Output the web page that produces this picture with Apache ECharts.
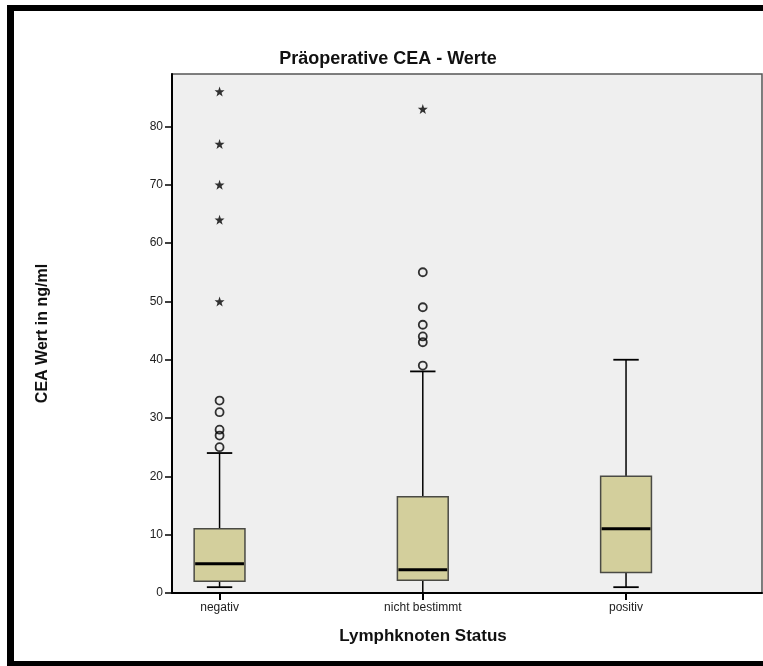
<!DOCTYPE html>
<html>
<head>
<meta charset="utf-8">
<script src="https://cdn.jsdelivr.net/npm/echarts@6/dist/echarts.min.js"></script>
<style>
  html, body { margin: 0; padding: 0; background: #fff; }
  #chart { width: 763px; height: 666px; }
</style>
</head>
<body>
<div id="chart"></div>
<script>
// Lymph node status groups (positions 1..3 on the x scale)
const categories = ['negativ', 'nicht bestimmt', 'positiv'];
const positions = [1, 2, 3];

// Box summaries per group: [lower whisker, Q1, median, Q3, upper whisker]
const boxNegativ = [1, 2, 5, 11, 24];
const boxNichtBestimmt = [0, 2.2, 4, 16.5, 38];
const boxPositiv = [1, 3.5, 11, 20, 40];

// Mild outliers (circles) and extreme values (asterisks) per group
const outNegativ = [25, 27, 28, 31, 33];
const outNichtBestimmt = [39, 43, 44, 46, 49, 55];
const outPositiv = [];
const extNegativ = [50, 64, 70, 77, 86];
const extNichtBestimmt = [83];
const extPositiv = [];

// Y-axis tick labels
const yTicks = [0, 10, 20, 30, 40, 50, 60, 70, 80];

const boxes = [boxNegativ, boxNichtBestimmt, boxPositiv];
const outliers = [outNegativ, outNichtBestimmt, outPositiv];
const extremes = [extNegativ, extNichtBestimmt, extPositiv];

const boxData = positions.map((p, i) => [p].concat(boxes[i]));
const circleData = [];
const starData = [];
positions.forEach((p, i) => {
  outliers[i].forEach(v => circleData.push([p, v]));
  extremes[i].forEach(v => starData.push([p, v]));
});

const starPath = 'path://M10 0 L12.35 6.76 L19.51 6.91 L13.80 11.24 L15.88 18.09 L10 14 L4.12 18.09 L6.20 11.24 L0.49 6.91 L7.65 6.76 Z';
const FONT = '"Liberation Sans", Arial, sans-serif';

function renderBox(params, api) {
  const x = api.value(0);
  const lo = api.coord([x, api.value(1)]);
  const q1 = api.coord([x, api.value(2)]);
  const med = api.coord([x, api.value(3)]);
  const q3 = api.coord([x, api.value(4)]);
  const hi = api.coord([x, api.value(5)]);
  const boxW = api.size([0.25, 0])[0];
  const capW = api.size([0.125, 0])[0];
  const cx = lo[0];
  const line = (x1, y1, x2, y2, w, c) => ({
    type: 'line',
    shape: { x1, y1, x2, y2 },
    style: { stroke: c || '#000', lineWidth: w }
  });
  return {
    type: 'group',
    children: [
      line(cx, hi[1], cx, q3[1], 1.5),
      line(cx, q1[1], cx, lo[1], 1.5),
      line(cx - capW / 2, hi[1], cx + capW / 2, hi[1], 1.8),
      line(cx - capW / 2, lo[1], cx + capW / 2, lo[1], 1.8),
      {
        type: 'rect',
        shape: { x: cx - boxW / 2, y: q3[1], width: boxW, height: q1[1] - q3[1] },
        style: { fill: '#d3cf9c', stroke: '#4a4a44', lineWidth: 1.5 }
      },
      line(cx - boxW / 2 + 1, med[1], cx + boxW / 2 - 1, med[1], 3)
    ]
  };
}

const chart = echarts.init(document.getElementById('chart'), null, { renderer: 'canvas' });
chart.setOption({
  animation: false,
  backgroundColor: '#ffffff',
  title: {
    text: 'Präoperative CEA - Werte',
    left: 383,
    top: 45,
    textAlign: 'center',
    textStyle: { fontFamily: FONT, fontSize: 18, fontWeight: 'bold', color: '#111' }
  },
  grid: {
    left: 172, top: 74, width: 590, height: 519,
    show: true, backgroundColor: '#efefef', borderColor: '#555', borderWidth: 1.5
  },
  xAxis: {
    type: 'value',
    min: 0.766,
    max: 3.669,
    axisLine: { lineStyle: { color: '#000', width: 2 } },
    axisTick: { show: true, length: 7, customValues: positions, lineStyle: { color: '#000', width: 2 } },
    axisLabel: {
      customValues: positions,
      formatter: v => categories[Math.round(v) - 1] || '',
      fontFamily: FONT, fontSize: 12, color: '#222', margin: 9
    },
    splitLine: { show: false }
  },
  yAxis: {
    type: 'value',
    min: 0,
    max: 89,
    name: 'CEA Wert in ng/ml',
    nameLocation: 'middle',
    nameGap: 121,
    nameTextStyle: { fontFamily: FONT, fontSize: 16, fontWeight: 'bold', color: '#111' },
    axisLine: { show: true, lineStyle: { color: '#000', width: 2 } },
    axisTick: { show: true, length: 7, customValues: yTicks, lineStyle: { color: '#000', width: 1.5 } },
    axisLabel: { customValues: yTicks, fontFamily: FONT, fontSize: 12, color: '#222', margin: 9 },
    splitLine: { show: false }
  },
  graphic: [
    // outer frame
    { type: 'rect', shape: { x: 7, y: 5, width: 756, height: 6 }, style: { fill: '#000' }, z: 100 },
    { type: 'rect', shape: { x: 7, y: 5, width: 7, height: 661 }, style: { fill: '#000' }, z: 100 },
    { type: 'rect', shape: { x: 7, y: 661, width: 756, height: 5 }, style: { fill: '#000' }, z: 100 },
    {
      type: 'text', x: 423, y: 628,
      style: {
        text: 'Lymphknoten Status', textAlign: 'center', textVerticalAlign: 'top',
        font: 'bold 17px ' + FONT, fill: '#111'
      }
    }
  ],
  series: [
    {
      type: 'custom',
      renderItem: renderBox,
      encode: { x: 0, y: [1, 2, 3, 4, 5] },
      data: boxData,
      z: 2
    },
    {
      type: 'scatter',
      data: circleData,
      symbol: 'circle',
      symbolSize: 8,
      itemStyle: { color: 'rgba(0,0,0,0)', borderColor: '#000', borderWidth: 1.8 },
      z: 3
    },
    {
      type: 'scatter',
      data: starData,
      symbol: starPath,
      symbolSize: 10,
      itemStyle: { color: '#000' },
      z: 3
    }
  ]
});
</script>
</body>
</html>
